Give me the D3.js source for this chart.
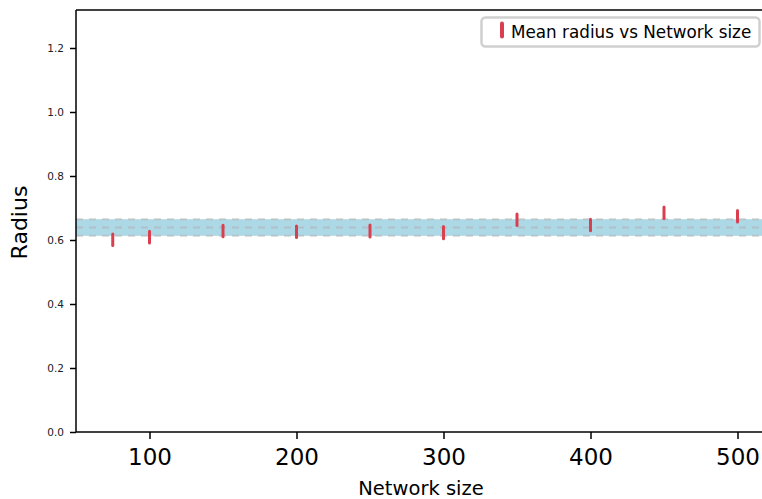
<!DOCTYPE html>
<html>
<head>
<meta charset="utf-8">
<script src="https://cdn.jsdelivr.net/npm/d3@7"></script>
<style>
body{margin:0;background:#fff;}
text{font-family:"DejaVu Sans",sans-serif;}
</style>
</head>
<body>
<script>
var width=762,height=499;

// data
var sizes=[75,100,150,200,250,300,350,400,450,500];
var meanRadius=[0.601,0.609,0.628,0.626,0.628,0.623,0.663,0.647,0.685,0.674];
var errRadius=[0.018,0.018,0.018,0.018,0.019,0.019,0.018,0.018,0.018,0.018];
var bandMean=0.639,bandStd=0.026;
var yTicks=[0.0,0.2,0.4,0.6,0.8,1.0,1.2];
var xTicks=[100,200,300,400,500];

var margin={left:76,top:10,bottom:432};
var x=d3.scaleLinear().domain([50,525]).range([margin.left,margin.left+1.47*475]);
var y=d3.scaleLinear().domain([0,1.32]).range([margin.bottom,margin.bottom-320*1.32]);

var svg=d3.select("body").append("svg").attr("width",width).attr("height",height);

var plot=svg.append("g");
var x0=x.range()[0],x1=x.range()[1];

// band
plot.append("rect")
	.attr("x",x0).attr("width",x1-x0)
	.attr("y",y(bandMean+bandStd)).attr("height",y(bandMean-bandStd)-y(bandMean+bandStd))
	.attr("fill","#add8e6");
[bandMean-bandStd,bandMean,bandMean+bandStd].forEach(function(v){
	plot.append("line")
		.attr("x1",x0).attr("x2",x1).attr("y1",y(v)).attr("y2",y(v))
		.attr("stroke","#b0b0b0").attr("stroke-opacity",0.55)
		.attr("stroke-width",2).attr("stroke-dasharray","7,6")
})

// error bars
plot.selectAll("line.err").data(sizes).enter().append("line").attr("class","err")
	.attr("x1",(d)=>x(d)).attr("x2",(d)=>x(d))
	.attr("y1",(d,i)=>y(meanRadius[i]+errRadius[i]))
	.attr("y2",(d,i)=>y(meanRadius[i]-errRadius[i]))
	.attr("stroke","#d9404f").attr("stroke-width",3).attr("stroke-linecap","round")

// axes
var xAxis=svg.append("g").attr("transform","translate(0,"+margin.bottom+")")
	.call(d3.axisBottom(x).tickValues(xTicks).tickSize(7).tickPadding(10).tickFormat(d3.format("d")))
xAxis.select(".domain").remove()
xAxis.selectAll("line").attr("stroke","#000").attr("stroke-width",1.5)
xAxis.selectAll("text").attr("font-size",23).attr("fill","#000").attr("font-family","DejaVu Sans")

var yAxis=svg.append("g").attr("transform","translate("+margin.left+",0)")
	.call(d3.axisLeft(y).tickValues(yTicks).tickSize(6).tickPadding(6).tickFormat(d3.format(".1f")))
yAxis.select(".domain").remove()
yAxis.selectAll("line").attr("stroke","#000").attr("stroke-width",1.5)
yAxis.selectAll("text").attr("font-size",10.5).attr("fill","#222").attr("font-family","DejaVu Sans")

// spines
svg.append("line").attr("x1",x0).attr("x2",x0).attr("y1",margin.top).attr("y2",margin.bottom).attr("stroke","#000").attr("stroke-width",1.5)
svg.append("line").attr("x1",x0).attr("x2",x1).attr("y1",margin.bottom).attr("y2",margin.bottom).attr("stroke","#000").attr("stroke-width",1.5)
svg.append("line").attr("x1",x0).attr("x2",x1).attr("y1",margin.top).attr("y2",margin.top).attr("stroke","#000").attr("stroke-width",1.5)
svg.append("line").attr("x1",x1).attr("x2",x1).attr("y1",margin.top).attr("y2",margin.bottom).attr("stroke","#000").attr("stroke-width",1.5)

// labels
svg.append("text").attr("x",421).attr("y",495).attr("text-anchor","middle").attr("font-size",19.5).text("Network size")
svg.append("text").attr("transform","translate(27,222.5) rotate(-90)").attr("text-anchor","middle").attr("font-size",22).text("Radius")

// legend
var lg=svg.append("g")
lg.append("rect").attr("x",481.5).attr("y",17.5).attr("width",278).attr("height",29).attr("rx",4)
	.attr("fill","#fff").attr("stroke","#d0d0d0").attr("stroke-width",2.5)
lg.append("line").attr("x1",502).attr("x2",502).attr("y1",23.5).attr("y2",36.5)
	.attr("stroke","#d9404f").attr("stroke-width",4).attr("stroke-linecap","round")
lg.append("text").attr("x",511).attr("y",37.5).attr("font-size",16.8).text("Mean radius vs Network size")
</script>
</body>
</html>
